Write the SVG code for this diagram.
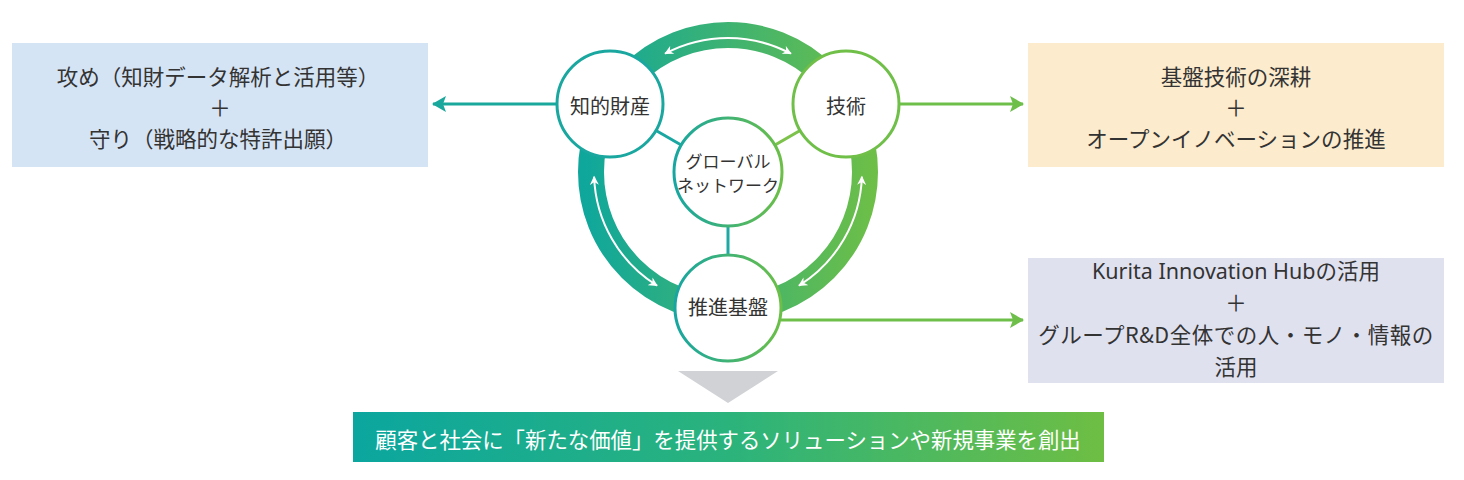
<svg xmlns="http://www.w3.org/2000/svg" width="1464" height="480" viewBox="0 0 1464 480">
<style>
  text { font-family: "Noto Sans CJK JP", "Noto Sans", sans-serif; fill: #333333; text-anchor: middle; dominant-baseline: central; }
  .box { font-size: 21.5px; }
  .latin { font-family: "Noto Sans", "Noto Sans CJK JP", sans-serif; }
  .lbl { font-size: 20px; }
  .lblS { font-size: 17px; }
  .banner { font-size: 21.4px; fill: #ffffff; }
  .node { fill: #ffffff; stroke-width: 3; }
  .wa { fill: none; stroke: #ffffff; stroke-width: 2; marker-start: url(#wArrow); marker-end: url(#wArrow); }
</style>
<defs>
  <linearGradient id="ringGrad" gradientUnits="userSpaceOnUse" x1="585" y1="0" x2="880" y2="0">
    <stop offset="0" stop-color="#0fa79c"/>
    <stop offset="1" stop-color="#6fbf45"/>
  </linearGradient>
  <linearGradient id="nodeGrad" x1="0" y1="0" x2="1" y2="0">
    <stop offset="0" stop-color="#16a6a2"/>
    <stop offset="1" stop-color="#6cbf47"/>
  </linearGradient>
  <linearGradient id="bannerGrad" x1="0" y1="0" x2="1" y2="0">
    <stop offset="0" stop-color="#0ba69f"/>
    <stop offset="0.5" stop-color="#2bb37c"/>
    <stop offset="1" stop-color="#6ebe43"/>
  </linearGradient>
  <marker id="wArrow" viewBox="0 0 10 10" refX="9" refY="5" markerWidth="10" markerHeight="9" markerUnits="userSpaceOnUse" orient="auto-start-reverse">
    <path d="M0,0 L10,5 L0,10 L3,5 Z" fill="#ffffff"/>
  </marker>
  <marker id="tArrow" viewBox="0 0 14 16" refX="13" refY="8" markerWidth="14" markerHeight="16" markerUnits="userSpaceOnUse" orient="auto">
    <path d="M0,0 L14,8 L0,16 L3,8 Z" fill="#1aa79c"/>
  </marker>
  <marker id="gArrow" viewBox="0 0 14 16" refX="13" refY="8" markerWidth="14" markerHeight="16" markerUnits="userSpaceOnUse" orient="auto">
    <path d="M0,0 L14,8 L0,16 L3,8 Z" fill="#6dbf4a"/>
  </marker>
</defs>

<rect width="1464" height="480" fill="#ffffff"/>

<!-- ring -->
<g id="ring">
  <circle cx="728" cy="172" r="137" fill="none" stroke="url(#ringGrad)" stroke-width="26"/>
  <path class="wa" d="M665.1,53.7 A134,134 0 0 1 790.9,53.7"/>
  <path class="wa" d="M657.0,285.6 A134,134 0 0 1 594.1,176.7"/>
  <path class="wa" d="M861.9,176.7 A134,134 0 0 1 799.0,285.6"/>
</g>

<!-- connectors -->
<g id="connectors">
  <line x1="728" y1="172" x2="610" y2="104" stroke="#1aa7a2" stroke-width="3"/>
  <line x1="728" y1="172" x2="846" y2="104" stroke="#7cc24b" stroke-width="3"/>
  <line x1="728" y1="172" x2="728" y2="308" stroke="#1fa9a5" stroke-width="3"/>
  <line x1="556" y1="104" x2="433" y2="104" stroke="#1aa79c" stroke-width="3" marker-end="url(#tArrow)"/>
  <line x1="900" y1="104" x2="1023" y2="104" stroke="#6dbf4a" stroke-width="3" marker-end="url(#gArrow)"/>
  <line x1="781" y1="320" x2="1023" y2="320" stroke="#6dbf4a" stroke-width="3" marker-end="url(#gArrow)"/>
</g>

<g id="node-chizai">
  <circle class="node" cx="610" cy="104" r="53" stroke="#1aa7a0"/>
  <text class="lbl" x="610" y="105">知的財産</text>
</g>
<g id="node-gijutsu">
  <circle class="node" cx="846" cy="104" r="53" stroke="#6fbf48"/>
  <text class="lbl" x="846" y="105">技術</text>
</g>
<g id="node-global">
  <circle class="node" cx="728" cy="172" r="54" stroke="url(#nodeGrad)"/>
  <text class="lblS" x="728" y="160">グローバル</text>
  <text class="lblS" x="728" y="184">ネットワーク</text>
</g>
<g id="node-suishin">
  <circle class="node" cx="728" cy="308" r="53" stroke="url(#nodeGrad)"/>
  <text class="lbl" x="728" y="306">推進基盤</text>
</g>

<g id="box-left">
  <rect x="12" y="43" width="416" height="124" fill="#d5e4f4"/>
  <text class="box" x="218" y="75">攻め（知財データ解析と活用等）</text>
  <text class="box" x="220" y="106">＋</text>
  <text class="box" x="218" y="137">守り（戦略的な特許出願）</text>
</g>

<g id="box-right-top">
  <rect x="1028" y="43" width="416" height="124" fill="#fcebcd"/>
  <text class="box" x="1236" y="75">基盤技術の深耕</text>
  <text class="box" x="1236" y="106">＋</text>
  <text class="box" x="1236" y="137">オープンイノベーションの推進</text>
</g>

<g id="box-right-bottom">
  <rect x="1028" y="258" width="416" height="125" fill="#e0e1ef"/>
  <text class="box latin" x="1236" y="270">Kurita Innovation Hubの活用</text>
  <text class="box" x="1236" y="301">＋</text>
  <text class="box" x="1236" y="333" letter-spacing="0.5">グループR&amp;D全体での人・モノ・情報の</text>
  <text class="box" x="1236" y="365">活用</text>
</g>

<g id="down-arrow">
  <polygon points="678,371 778,371 728,403" fill="#d0d2d5"/>
</g>

<g id="banner">
  <rect x="353" y="412" width="751" height="50" fill="url(#bannerGrad)"/>
  <text class="banner" x="728" y="438">顧客と社会に「新たな価値」を提供するソリューションや新規事業を創出</text>
</g>
</svg>
